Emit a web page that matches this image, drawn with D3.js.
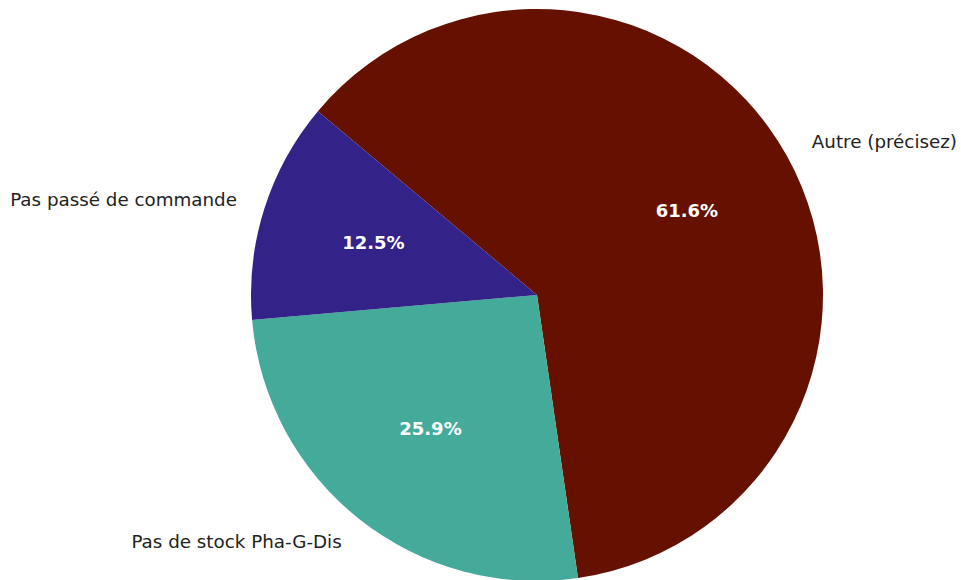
<!DOCTYPE html>
<html>
<head>
<meta charset="utf-8">
<script src="https://cdn.jsdelivr.net/npm/d3@7"></script>
<style>
  body { margin: 0; background: #fff; }
  svg { display: block; font-family: 'DejaVu Sans', sans-serif; }
</style>
</head>
<body>
<svg id="chart"></svg>
<script>
var categories = ['Autre (précisez)', 'Pas de stock Pha-G-Dis', 'Pas passé de commande']
var values = [61.6, 25.9, 12.5]
var colors = ['#661100', '#44AA99', '#332288']

;(function () {
  var width = 961; var height = 580
  var cx = 537; var cy = 295; var radius = 286

  var svg = d3.select('#chart')
    .attr('width', width)
    .attr('height', height)

  var g = svg.append('g')
    .attr('transform', 'translate(' + cx + ',' + cy + ')')

  // matplotlib style: startangle 140, clockwise
  var start = -50 * Math.PI / 180
  var pie = d3.pie()
    .sort(null)
    .value(d => d)
    .startAngle(start)
    .endAngle(start + 2 * Math.PI)

  var arcs = pie(values)

  var arc = d3.arc().innerRadius(0).outerRadius(radius)
  var labelArc = d3.arc().innerRadius(radius * 1.1).outerRadius(radius * 1.1)
  var pctArc = d3.arc().innerRadius(radius * 0.6).outerRadius(radius * 0.6)

  g.selectAll('path')
    .data(arcs)
    .enter().append('path')
    .attr('d', arc)
    .attr('fill', (d, i) => colors[i])

  g.selectAll('text.label')
    .data(arcs)
    .enter().append('text')
    .attr('class', 'label')
    .attr('x', d => labelArc.centroid(d)[0])
    .attr('y', d => labelArc.centroid(d)[1])
    .attr('dy', '0.33em')
    .attr('text-anchor', d => labelArc.centroid(d)[0] >= 0 ? 'start' : 'end')
    .attr('font-size', '18.3px')
    .attr('fill', '#222')
    .text((d, i) => categories[i])

  g.selectAll('text.pct')
    .data(arcs)
    .enter().append('text')
    .attr('class', 'pct')
    .attr('x', d => pctArc.centroid(d)[0])
    .attr('y', d => pctArc.centroid(d)[1])
    .attr('dy', '0.33em')
    .attr('text-anchor', 'middle')
    .attr('font-size', '18px')
    .attr('font-weight', 'bold')
    .attr('fill', '#fff')
    .text(d => d.data.toFixed(1) + '%')
})()
</script>
</body>
</html>
